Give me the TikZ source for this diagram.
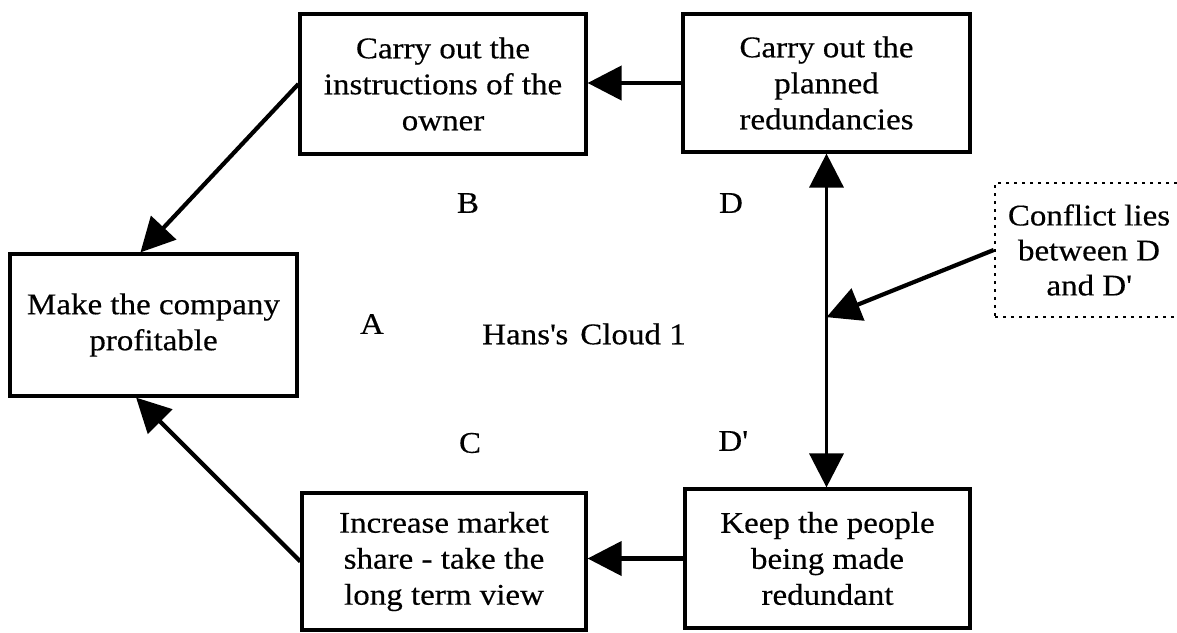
\documentclass[tikz,border=0pt]{standalone}
\usepackage{fontspec}
\setmainfont[FakeStretch=1.1, FakeBold=0.4]{Liberation Serif}
\usetikzlibrary{arrows.meta,calc}

\tikzset{
  stepbox/.style={draw, line width=1.6pt, align=center, inner sep=0pt,
    font=\fontsize{15}{18}\selectfont},
  notebox/.style={draw, line width=1.3pt, dash pattern=on 1.6pt off 2.4pt,
    align=center, inner sep=0pt, font=\fontsize{15}{17.5}\selectfont},
  tag/.style={font=\fontsize{15}{18}\selectfont, inner sep=0pt},
  arr/.style={line width=2.1pt, -{Triangle[length=17pt,width=17pt]}},
  dblarr/.style={line width=1.8pt,
    {Triangle[length=17pt,width=17pt]}-{Triangle[length=17pt,width=17pt]}},
}

\begin{document}
\begin{tikzpicture}[x=0.5pt,y=-0.5pt]
  \useasboundingbox (0,0) rectangle (1177,632);

  % the five statement boxes of the cloud
  \node[stepbox, minimum width=143pt, minimum height=70pt] (B) at (443,84)
    {Carry out the\\instructions of the\\owner};
  \node[stepbox, minimum width=143.5pt, minimum height=69pt] (D) at (826.5,83)
    {Carry out the\\planned\\redundancies};
  \node[stepbox, minimum width=143.5pt, minimum height=71pt] (A) at (153.5,325)
    {Make the company\\profitable};
  \node[stepbox, minimum width=142pt, minimum height=68.5pt] (C) at (444,561.5)
    {Increase market\\share - take the\\long term view};
  \node[stepbox, minimum width=142.5pt, minimum height=69.5pt] (Dp) at (827.5,558.5)
    {Keep the people\\being made\\redundant};

  % note on the conflict; its right side runs past the page edge
  \node[notebox, minimum width=94pt, minimum height=67pt] (conf) at (1089,250)
    {Conflict lies\\between D\\and D\textquotesingle};

  % letters and title
  \node[tag] (lB) at (468,203) {B};
  \node[tag] (lD) at (731,203) {D};
  \node[tag] (lA) at (372,324) {A};
  \node[tag] (title) at (584,334) {Hans\textquotesingle s\hspace{6pt}Cloud 1};
  \node[tag] (lC) at (470,443) {C};
  \node[tag] (lDp) at (733,441) {D\textquotesingle};

  % connectors
  \draw[arr] (D.west) -- (D.west -| B.east);
  \draw[arr] (Dp.west) -- (Dp.west -| C.east);
  \draw[arr] (B.west) -- ($(A.north west)!0.455!(A.north east)$);
  \draw[arr] (C.west) -- ($(A.south west)!0.44!(A.south east)$);
  \draw[dblarr] (D.south) -- (D.south |- Dp.north);
  \coordinate (mid) at ($(D.south)!0.49!(D.south |- Dp.north)$);
  \draw[arr] (conf.west) -- (mid);
\end{tikzpicture}
\end{document}
